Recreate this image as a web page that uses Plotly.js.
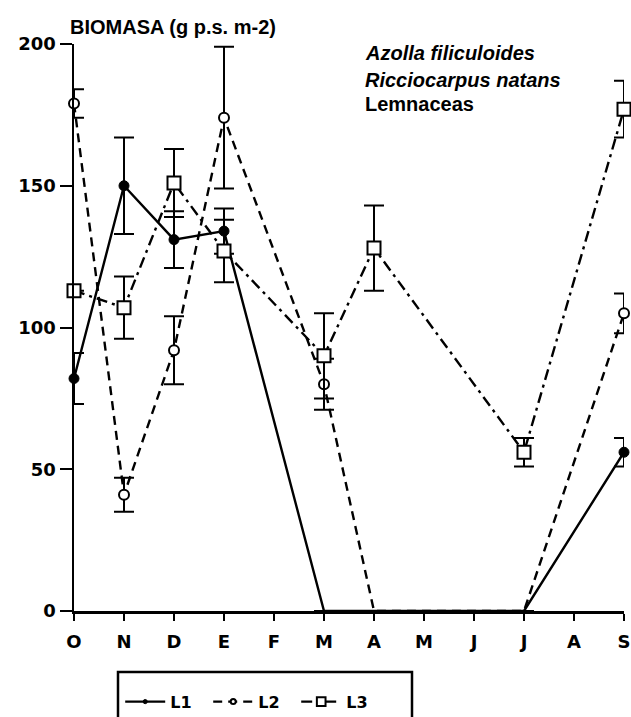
<!DOCTYPE html>
<html>
<head>
<meta charset="utf-8">
<script src="https://cdn.plot.ly/plotly-3.0.1.min.js"></script>
<style>html,body{margin:0;padding:0;background:#fff;}#chart{width:631px;height:717px;}</style>
</head>
<body>
<div id="chart"></div>
<script>
const months = ["O","N","D","E","F","M","A","M ","J","J ","A ","S"];
const tickLabels = ["O","N","D","E","F","M","A","M","J","J","A","S"];

const L1 = [82, 150, 131, 134, null, 0, 0, 0, 0, 0, null, 56];
const L1err = [9, 17, 10, 8, null, null, null, null, null, null, null, 5];

const L2 = [179, 41, 92, 174, null, 80, 0, 0, 0, 0, null, 105];
const L2err = [5, 6, 12, 25, null, 9, null, null, null, null, null, 7];

const L3 = [113, 107, 151, 127, null, 90, 128, null, null, 56, null, 177];
const L3err = [null, 11, 12, 11, null, 15, 15, null, null, 5, null, 10];

const yTicks = [0, 50, 100, 150, 200];

function sizes(vals, s){ return vals.map(v => (v === null || v === 0) ? 0 : s); }

const errStyle = (arr) => ({type:'data', array:arr, visible:true, color:'#000', thickness:2, width:10});

const traces = [
  {x: months, y: L1, name: 'L1', type:'scatter', mode:'lines+markers', connectgaps:true, cliponaxis:false,
   line:{color:'#000', width:2.4},
   marker:{symbol:'circle', color:'#000', opacity:1, size:sizes(L1,10), line:{color:'#000', width:1}},
   error_y: errStyle(L1err)},
  {x: months, y: L2, name: 'L2', type:'scatter', mode:'lines+markers', connectgaps:true, cliponaxis:false,
   line:{color:'#000', width:2.4, dash:'9px,6px'},
   marker:{symbol:'circle', color:'#fff', opacity:1, size:sizes(L2,10), line:{color:'#000', width:2}},
   error_y: errStyle(L2err)},
  {x: months, y: L3, name: 'L3', type:'scatter', mode:'lines+markers', connectgaps:true, cliponaxis:false,
   line:{color:'#000', width:2.4, dash:'11px,5px,3px,5px'},
   marker:{symbol:'square', color:'#fff', opacity:1, size:sizes(L3,13), line:{color:'#000', width:2}},
   error_y: errStyle(L3err)}
];

const sans = '"Liberation Sans", Arial, sans-serif';
const wide = '"DejaVu Sans", sans-serif';

const layout = {
  width:631, height:717,
  margin:{l:74, r:7, t:44, b:106, autoexpand:false},
  paper_bgcolor:'#fff', plot_bgcolor:'#fff',
  font: {family:sans, color:'#000', size:17},
  showlegend:true,
  legend:{orientation:'h', x:0.084, xanchor:'left', y:-0.13, yanchor:'top',
          borderwidth:0, font:{family:wide, size:16, color:'#000', weight:'bold'},
          itemwidth:40, entrywidth:33, tracegroupgap:0, bgcolor:'rgba(0,0,0,0)'},
  xaxis:{type:'category', categoryorder:'array', categoryarray:months,
         tickmode:'array', tickvals:months, ticktext:tickLabels,
         range:[0, 11], showgrid:false, zeroline:false, automargin:false,
         showline:true, linecolor:'#000', linewidth:2.5,
         ticks:'outside', ticklen:7, tickwidth:2, tickcolor:'#000',
         ticklabelstandoff:6, tickfont:{family:wide, size:18, color:'#000', weight:'bold'}},
  yaxis:{range:[0, 200], tickvals:yTicks, showgrid:false, zeroline:false, automargin:false,
         showline:true, linecolor:'#000', linewidth:2.5,
         ticks:'outside', ticklen:12, tickwidth:2, tickcolor:'#000',
         tickfont:{family:wide, size:18, color:'#000', weight:'bold'}},
  shapes:[
    {type:'rect', xref:'paper', yref:'paper',
     x0:(118-74)/550, x1:(412-74)/550, y0:(611-672)/567, y1:(611-730)/567,
     line:{color:'#000', width:2.5}, fillcolor:'rgba(0,0,0,0)'}
  ],
  annotations:[
    {text:'BIOMASA (g p.s. m-2)', xref:'paper', yref:'paper', x:-0.011, y:(611-27)/567, xanchor:'left', yanchor:'middle', showarrow:false, font:{family:sans, size:20, color:'#000', weight:'bold'}},
    {text:'<i>Azolla filiculoides</i>', xref:'paper', yref:'paper', x:(363-74)/550, y:(611-53)/567, xanchor:'left', yanchor:'middle', showarrow:false, font:{family:sans, size:20, color:'#000', weight:'bold'}},
    {text:'<i>Ricciocarpus natans</i>', xref:'paper', yref:'paper', x:(363-74)/550, y:(611-80)/567, xanchor:'left', yanchor:'middle', showarrow:false, font:{family:sans, size:20, color:'#000', weight:'bold'}},
    {text:'Lemnaceas', xref:'paper', yref:'paper', x:(363-74)/550, y:(611-104)/567, xanchor:'left', yanchor:'middle', showarrow:false, font:{family:sans, size:20, color:'#000', weight:'bold'}}
  ]
};

Plotly.newPlot('chart', traces, layout, {displayModeBar:false, staticPlot:true});
</script>
</body>
</html>
